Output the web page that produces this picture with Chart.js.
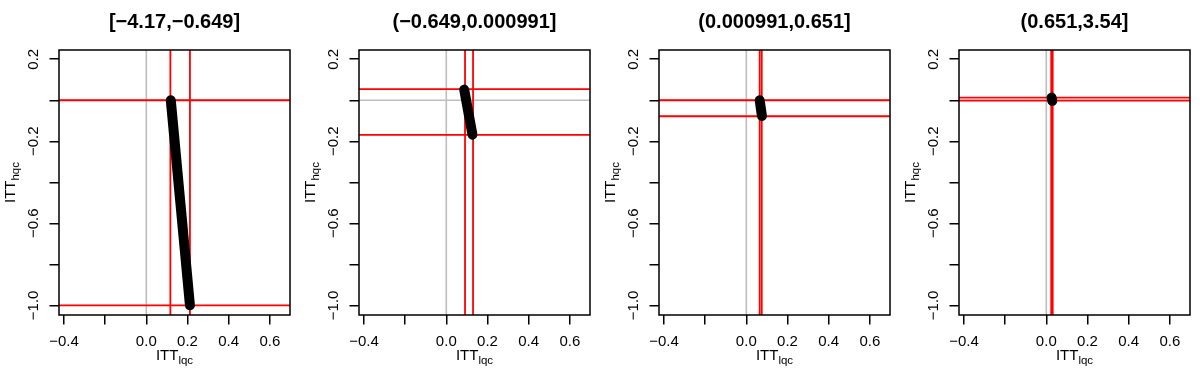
<!DOCTYPE html>
<html><head><meta charset="utf-8">
<script src="https://cdn.jsdelivr.net/npm/chart.js@4.4.1/dist/chart.umd.min.js"></script>
<style>
body{margin:0;background:#fff;}
#wrap{display:flex;width:1200px;height:375px;}
canvas{display:block;}
</style></head><body>
<div id="wrap">
<canvas id="c0" width="300" height="375"></canvas>
<canvas id="c1" width="300" height="375"></canvas>
<canvas id="c2" width="300" height="375"></canvas>
<canvas id="c3" width="300" height="375"></canvas>
</div>
<script>
// ---- data ----
const panelTitles = ["[−4.17,−0.649]", "(−0.649,0.000991]", "(0.000991,0.651]", "(0.651,3.54]"];
const xTicks = [-0.4, -0.2, 0, 0.2, 0.4, 0.6];
const xTickLabels = ["−0.4", "", "0.0", "0.2", "0.4", "0.6"];
const yTicks = [-1.0, -0.8, -0.6, -0.4, -0.2, 0, 0.2];
const yTickLabels = ["−1.0", "", "−0.6", "", "−0.2", "", "0.2"];
const xLimits = [-0.424, 0.698];
const yLimits = [-1.047, 0.245];
const refX = 0, refY = 0;
const redV = [[0.117, 0.212], [0.091, 0.130], [0.065, 0.075], [0.024, 0.031]];
const redH = [[0.0, -1.0], [0.054, -0.169], [0.0, -0.078], [0.013, -0.002]];
const segStart = [[0.119, 0.0], [0.087, 0.052], [0.065, 0.0], [0.026, 0.013]];
const segEnd = [[0.212, -1.0], [0.127, -0.168], [0.076, -0.077], [0.029, -0.003]];
const xTitle = ["ITT", "lqc"];
const yTitle = ["ITT", "hqc"];

const FONT = '"Liberation Sans", Arial, Helvetica, sans-serif';

function labelFor(ticks, labels, v) {
  for (let i = 0; i < ticks.length; i++) if (Math.abs(ticks[i] - v) < 1e-9) return labels[i];
  return "";
}
function vLine(x) { return [{x: x, y: yLimits[0]}, {x: x, y: yLimits[1]}]; }
function hLine(y) { return [{x: xLimits[0], y: y}, {x: xLimits[1], y: y}]; }
function lineDS(data, color, width, cap) {
  return {data: data, showLine: true, borderColor: color, backgroundColor: color,
          borderWidth: width, pointRadius: 0, pointHoverRadius: 0, fill: false,
          borderCapStyle: cap || 'butt', tension: 0};
}
function drawSub(ctx, parts, cx, cy, rot) {
  ctx.save();
  ctx.translate(cx, cy); ctx.rotate(rot);
  const mainF = '15px ' + FONT, subF = '11.5px ' + FONT;
  ctx.font = mainF; const w1 = ctx.measureText(parts[0]).width;
  ctx.font = subF; const w2 = ctx.measureText(parts[1]).width;
  const s = -(w1 + w2) / 2;
  ctx.fillStyle = '#000'; ctx.textAlign = 'left'; ctx.textBaseline = 'alphabetic';
  ctx.font = mainF; ctx.fillText(parts[0], s, 0);
  ctx.font = subF; ctx.fillText(parts[1], s + w1, 4);
  ctx.restore();
}
const framePlugin = {
  id: 'frame',
  afterDraw(chart) {
    const {ctx, chartArea: a} = chart;
    ctx.save();
    ctx.strokeStyle = '#000'; ctx.lineWidth = 1.5;
    ctx.strokeRect(a.left, a.top, a.right - a.left, a.bottom - a.top);
    ctx.restore();
    const cx = (a.left + a.right) / 2, cy = (a.top + a.bottom) / 2;
    drawSub(ctx, xTitle, cx, 360, 0);
    drawSub(ctx, yTitle, 15, cy, -Math.PI / 2);
  }
};

for (let p = 0; p < 4; p++) {
  const datasets = [
    lineDS([{x: segStart[p][0], y: segStart[p][1]}, {x: segEnd[p][0], y: segEnd[p][1]}], '#000', 10, 'round'),
    lineDS(vLine(redV[p][0]), '#FF0000', 1.8),
    lineDS(vLine(redV[p][1]), '#FF0000', 1.8),
    lineDS(hLine(redH[p][0]), '#FF0000', 1.8),
    lineDS(hLine(redH[p][1]), '#FF0000', 1.8),
    lineDS(vLine(refX), '#BEBEBE', 1.6),
    lineDS(hLine(refY), '#BEBEBE', 1.6)
  ];
  new Chart(document.getElementById('c' + p), {
    type: 'scatter',
    data: {datasets: datasets},
    plugins: [framePlugin],
    options: {
      responsive: false, animation: false, devicePixelRatio: 1,
      events: [],
      layout: {padding: {left: 0, right: 10, top: 0, bottom: 0}},
      plugins: {
        legend: {display: false}, tooltip: {enabled: false},
        title: {display: true, text: panelTitles[p], color: '#000', fullSize: false,
                font: {size: 20, weight: 'bold', family: FONT, lineHeight: 1.2},
                padding: {top: 10, bottom: 16}}
      },
      scales: {
        x: {
          type: 'linear', min: xLimits[0], max: xLimits[1],
          afterBuildTicks: s => { s.ticks = xTicks.map(v => ({value: v})); },
          afterFit: s => { s.height = 60; },
          ticks: {autoSkip: false, maxRotation: 0, minRotation: 0, padding: 8, color: '#000',
                  font: {size: 15, family: FONT},
                  callback: v => labelFor(xTicks, xTickLabels, v)},
          grid: {display: true, drawOnChartArea: false, drawTicks: true, tickLength: 9.5,
                 color: '#000', lineWidth: 1.5},
          border: {display: false}
        },
        y: {
          type: 'linear', min: yLimits[0], max: yLimits[1],
          afterBuildTicks: s => { s.ticks = yTicks.map(v => ({value: v})); },
          afterFit: s => { s.width = 59; },
          ticks: {autoSkip: false, minRotation: 90, maxRotation: 90, crossAlign: 'center',
                  padding: 1, color: '#000', font: {size: 15, family: FONT},
                  callback: v => labelFor(yTicks, yTickLabels, v)},
          grid: {display: true, drawOnChartArea: false, drawTicks: true, tickLength: 9.5,
                 color: '#000', lineWidth: 1.5},
          border: {display: false}
        }
      }
    }
  });
}
</script>
</body></html>
